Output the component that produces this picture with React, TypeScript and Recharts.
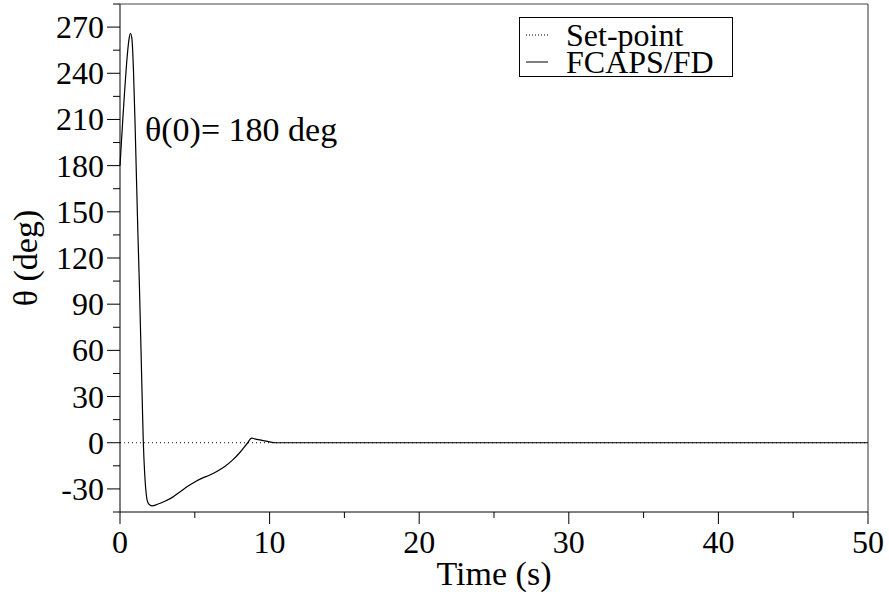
import React from 'react';
import {
	Legend,
	Line,
	LineChart,
	ReferenceDot,
	ReferenceLine,
	XAxis,
	YAxis,
} from 'recharts';

// time (s)
const times = [
	0, 0.1, 0.2, 0.3, 0.4, 0.5, 0.6, 0.7, 0.8, 0.9, 1.0, 1.1, 1.2, 1.3, 1.4, 1.5,
	1.56, 1.65, 1.75, 1.85, 2.0, 2.15, 2.5, 3.0, 3.5, 4.0, 4.5, 5.0, 5.5, 6.0,
	6.5, 7.0, 7.5, 8.0, 8.5, 8.8, 9.0, 9.5, 10.0, 10.4, 12, 20, 30, 40, 50,
];
// FCAPS/FD response (deg)
const theta = [
	180, 196, 212, 227, 241, 253, 262, 266, 262, 242, 210, 172, 135, 101, 62, 22,
	0, -20, -33, -38.5, -40.5, -41, -40, -38, -35.5, -32, -28.5, -25.5, -23, -21,
	-18.5, -15.5, -11.5, -6.5, -0.5, 3, 2.5, 1.5, 0.5, 0, 0, 0, 0, 0, 0,
];
const setPoint = 0;

const xTicks = [0, 5, 10, 15, 20, 25, 30, 35, 40, 45, 50];
const yTicks = [
	-45, -30, -15, 0, 15, 30, 45, 60, 75, 90, 105, 120, 135, 150, 165, 180, 195,
	210, 225, 240, 255, 270, 285,
];

const FONT = '"Liberation Serif", "Times New Roman", serif';

const data = times.map((t, i) => ({ t, theta: theta[i], sp: setPoint }));

const XTick = (props: any) => {
	const { x, y, payload } = props;
	const major = payload.value % 10 === 0;
	return (
		<g>
			<line x1={x} x2={x} y1={y} y2={y + (major ? 12 : 6)} stroke="#000" />
			{major && (
				<text
					x={x}
					y={y + 41}
					textAnchor="middle"
					fontFamily={FONT}
					fontSize={32}
					fill="#000"
				>
					{payload.value}
				</text>
			)}
		</g>
	);
};

const YTick = (props: any) => {
	const { x, y, payload } = props;
	const major = payload.value % 30 === 0 && payload.value >= -30 && payload.value <= 270;
	return (
		<g>
			<line x1={x - (major ? 13 : 7)} x2={x} y1={y} y2={y} stroke="#000" />
			{major && (
				<text
					x={x - 16}
					y={y + 11}
					textAnchor="end"
					fontFamily={FONT}
					fontSize={32}
					fill="#000"
				>
					{payload.value}
				</text>
			)}
		</g>
	);
};

const LegendBox = () => (
	<svg width={215} height={61} style={{ display: 'block', overflow: 'visible' }}>
		<rect x={0.5} y={0.5} width={213} height={59} fill="#fff" stroke="#000" />
		<line x1={7} x2={29} y1={18} y2={18} stroke="#000" strokeDasharray="1 2" />
		<text x={47} y={29} fontFamily={FONT} fontSize={32} fill="#000">
			Set-point
		</text>
		<line x1={7} x2={29} y1={45} y2={45} stroke="#000" />
		<text x={47} y={56} fontFamily={FONT} fontSize={32} fill="#000">
			FCAPS/FD
		</text>
	</svg>
);

export default function App() {
	return (
		<div style={{ position: 'absolute', left: 0, top: 0, background: '#fff' }}>
			<LineChart
				width={889}
				height={598}
				data={data}
				margin={{ top: 4, right: 21, bottom: 0, left: 0 }}
			>
				<XAxis
					dataKey="t"
					type="number"
					domain={[0, 50]}
					ticks={xTicks}
					interval={0}
					height={86}
					tickSize={0}
					tickMargin={0}
					tickLine={false}
					tick={<XTick />}
					axisLine={{ stroke: '#000' }}
					label={(p: any) => {
						const vb = p.viewBox;
						return (
							<text
								x={vb.x + vb.width / 2}
								y={vb.y + 73}
								textAnchor="middle"
								fontFamily={FONT}
								fontSize={34}
								fill="#000"
							>
								Time (s)
							</text>
						);
					}}
				/>
				<YAxis
					type="number"
					domain={[-45, 285]}
					ticks={yTicks}
					interval={0}
					width={120}
					tickSize={0}
					tickMargin={0}
					tickLine={false}
					tick={<YTick />}
					axisLine={{ stroke: '#000' }}
					label={(p: any) => {
						const vb = p.viewBox;
						const cy = vb.y + vb.height / 2;
						return (
							<text
								x={37}
								y={cy}
								transform={`rotate(-90, 37, ${cy})`}
								textAnchor="middle"
								fontFamily={FONT}
								fontSize={34}
								fill="#000"
							>
								θ (deg)
							</text>
						);
					}}
				/>
				<ReferenceLine y={285} stroke="#444" />
				<ReferenceLine x={50} stroke="#333" />
				<ReferenceDot
					x={1.67}
					y={196}
					r={0}
					fill="none"
					stroke="none"
					label={(p: any) => (
						<text
							x={p.viewBox.x}
							y={p.viewBox.y}
							fontFamily={FONT}
							fontSize={34}
							fill="#000"
						>
							θ(0)= 180 deg
						</text>
					)}
				/>
				<Line
					dataKey="sp"
					name="Set-point"
					stroke="#000"
					strokeWidth={1}
					strokeDasharray="1 3"
					dot={false}
					isAnimationActive={false}
				/>
				<Line
					type="monotone"
					dataKey="theta"
					name="FCAPS/FD"
					stroke="#000"
					strokeWidth={1.2}
					dot={false}
					isAnimationActive={false}
				/>
				<Legend
					layout="horizontal"
					verticalAlign="middle"
					align="center"
					wrapperStyle={{ left: 519, top: 17, width: 215 }}
					content={() => <LegendBox />}
				/>
			</LineChart>
		</div>
	);
}
